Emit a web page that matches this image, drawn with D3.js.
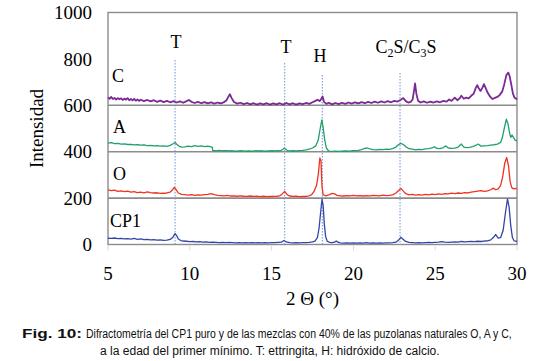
<!DOCTYPE html>
<html>
<head>
<meta charset="utf-8">
<script src="https://cdn.jsdelivr.net/npm/d3@7"></script>
<style>
  body { margin: 0; background: #fff; }
  svg text { font-family: "Liberation Serif", "Times New Roman", serif; }
</style>
</head>
<body>
<div id="chart"></div>
<script>
// 2-theta / intensity pairs
var cp1 = [[5.0,27],[5.2,26],[5.4,28],[5.6,25],[5.8,26],[6.0,24],[6.2,25],[6.4,23],[6.6,26],[6.8,22],[7.0,24],[7.2,21],[7.4,22],[7.6,20],[7.8,21],[8.0,19],[8.2,20],[8.4,18],[8.6,19],[8.8,22],[8.95,30],[9.1,47],[9.2,38],[9.3,24],[9.45,17],[9.6,15],[9.8,14],[10.0,12],[10.2,13],[10.4,11],[10.6,12],[10.8,10],[11.0,11],[11.2,9],[11.4,10],[11.6,9],[11.8,8],[12.0,9],[12.2,8],[12.4,9],[12.6,8],[12.8,7],[13.0,8],[13.2,7],[13.4,8],[13.6,7],[13.8,8],[14.0,7],[14.2,8],[14.4,7],[14.6,8],[14.8,7],[15.0,8],[15.2,8],[15.4,9],[15.6,10],[15.75,17],[15.9,11],[16.1,8],[16.3,7],[16.5,8],[16.7,7],[16.9,8],[17.1,8],[17.3,9],[17.5,11],[17.65,15],[17.8,30],[17.9,70],[18.0,140],[18.08,195],[18.15,170],[18.22,90],[18.3,35],[18.4,14],[18.55,9],[18.7,8],[18.85,10],[18.95,15],[19.05,10],[19.2,7],[19.4,6],[19.6,7],[19.8,6],[20.0,7],[20.2,6],[20.4,7],[20.6,6],[20.8,8],[21.0,6],[21.2,7],[21.4,6],[21.6,7],[21.8,6],[22.0,7],[22.2,7],[22.4,8],[22.6,10],[22.75,18],[22.9,31],[23.05,22],[23.2,13],[23.4,9],[23.6,8],[23.8,7],[24.0,8],[24.2,7],[24.4,8],[24.6,9],[24.8,8],[25.0,9],[25.2,10],[25.4,12],[25.6,10],[25.8,9],[26.0,10],[26.2,11],[26.4,10],[26.6,13],[26.8,11],[27.0,12],[27.2,13],[27.4,12],[27.6,14],[27.8,13],[28.0,15],[28.2,16],[28.4,20],[28.55,30],[28.7,43],[28.85,28],[29.0,30],[29.15,60],[29.3,140],[29.42,197],[29.52,160],[29.62,80],[29.72,30],[29.82,16],[30.0,14]];

var serieO = [[5.0,235],[5.2,232],[5.4,234],[5.6,229],[5.8,231],[6.0,228],[6.2,230],[6.4,226],[6.6,228],[6.8,224],[7.0,226],[7.2,223],[7.4,227],[7.6,224],[7.8,222],[8.0,223],[8.2,220],[8.4,221],[8.6,222],[8.8,226],[8.95,236],[9.05,246],[9.15,238],[9.3,222],[9.5,216],[9.7,215],[9.9,213],[10.1,215],[10.3,212],[10.5,214],[10.7,213],[10.9,215],[11.1,216],[11.3,219],[11.5,215],[11.7,212],[11.9,211],[12.1,210],[12.3,212],[12.5,209],[12.7,210],[12.9,208],[13.1,210],[13.3,208],[13.5,207],[13.7,209],[13.9,207],[14.1,208],[14.3,206],[14.5,208],[14.7,206],[14.9,207],[15.1,207],[15.3,208],[15.5,210],[15.65,218],[15.8,229],[15.95,215],[16.1,209],[16.3,207],[16.5,208],[16.7,206],[16.9,207],[17.1,207],[17.3,210],[17.45,215],[17.6,230],[17.75,255],[17.85,300],[17.95,373],[18.02,360],[18.08,250],[18.15,215],[18.3,210],[18.5,214],[18.7,220],[18.85,218],[19.0,212],[19.2,210],[19.4,209],[19.6,211],[19.8,210],[20.0,212],[20.2,210],[20.4,211],[20.6,209],[20.8,211],[21.0,210],[21.2,212],[21.4,211],[21.6,210],[21.8,213],[22.0,211],[22.2,212],[22.4,214],[22.6,222],[22.75,232],[22.9,242],[23.05,230],[23.2,219],[23.4,214],[23.6,216],[23.8,213],[24.0,215],[24.2,213],[24.4,216],[24.6,214],[24.8,217],[25.0,215],[25.2,218],[25.4,216],[25.6,219],[25.8,218],[26.0,221],[26.2,219],[26.4,222],[26.6,220],[26.8,224],[27.0,222],[27.2,226],[27.4,228],[27.6,230],[27.8,232],[28.0,229],[28.2,231],[28.4,236],[28.55,243],[28.7,236],[28.85,240],[29.0,255],[29.12,290],[29.25,350],[29.37,375],[29.48,340],[29.58,270],[29.68,245],[29.8,240],[29.9,242],[30.0,238]];

var serieA = [[5.0,437],[5.2,439],[5.4,435],[5.6,436],[5.8,433],[6.0,434],[6.2,431],[6.4,432],[6.6,429],[6.8,430],[7.0,428],[7.2,429],[7.4,426],[7.6,427],[7.8,425],[8.0,426],[8.2,424],[8.4,425],[8.6,423],[8.8,427],[8.95,433],[9.1,440],[9.2,432],[9.35,423],[9.5,420],[9.7,421],[9.9,424],[10.1,422],[10.3,426],[10.5,423],[10.7,425],[10.9,422],[11.1,424],[11.3,421],[11.38,419],[11.4,405],[11.6,404],[11.8,406],[12.0,404],[12.2,405],[12.4,403],[12.6,404],[12.8,402],[13.0,403],[13.2,404],[13.4,402],[13.6,403],[13.8,402],[14.0,404],[14.2,403],[14.4,404],[14.6,402],[14.8,403],[15.0,404],[15.2,403],[15.4,404],[15.6,406],[15.78,415],[15.95,406],[16.1,403],[16.3,404],[16.5,403],[16.7,405],[16.9,406],[17.1,408],[17.3,411],[17.5,416],[17.7,425],[17.85,450],[17.97,500],[18.07,537],[18.15,505],[18.25,450],[18.35,415],[18.5,402],[18.7,401],[18.9,402],[19.1,401],[19.3,402],[19.5,403],[19.7,402],[19.9,404],[20.1,405],[20.3,406],[20.5,409],[20.7,414],[20.85,416],[21.0,412],[21.2,409],[21.4,408],[21.6,410],[21.8,409],[22.0,411],[22.2,410],[22.4,413],[22.6,420],[22.75,430],[22.9,436],[23.05,431],[23.2,422],[23.4,413],[23.6,411],[23.8,408],[24.0,410],[24.2,409],[24.4,412],[24.6,413],[24.8,416],[24.95,421],[25.1,414],[25.3,413],[25.5,418],[25.65,425],[25.8,416],[26.0,414],[26.2,415],[26.4,420],[26.6,433],[26.75,420],[26.9,418],[27.1,419],[27.3,422],[27.5,428],[27.62,433],[27.8,424],[28.0,425],[28.2,426],[28.4,428],[28.6,430],[28.8,433],[29.0,440],[29.1,460],[29.22,500],[29.35,540],[29.45,520],[29.55,480],[29.62,462],[29.7,472],[29.78,462],[29.88,450],[30.0,447]];

var serieC = [[5.0,634],[5.1,628],[5.2,636],[5.3,627],[5.4,632],[5.5,625],[5.6,631],[5.7,626],[5.8,630],[5.9,623],[6.0,629],[6.1,624],[6.2,631],[6.3,622],[6.4,627],[6.5,621],[6.6,628],[6.7,620],[6.8,625],[6.9,619],[7.0,624],[7.2,618],[7.4,623],[7.6,617],[7.8,622],[8.0,615],[8.2,620],[8.4,614],[8.6,619],[8.8,613],[9.0,618],[9.2,612],[9.4,617],[9.6,611],[9.8,618],[9.95,623],[10.1,615],[10.3,610],[10.5,615],[10.7,609],[10.9,614],[11.1,608],[11.3,613],[11.5,607],[11.7,612],[11.9,608],[12.1,614],[12.25,622],[12.35,636],[12.45,648],[12.55,632],[12.7,614],[12.9,607],[13.1,611],[13.3,605],[13.5,610],[13.7,604],[13.9,609],[14.1,603],[14.3,608],[14.5,604],[14.7,609],[14.9,603],[15.1,608],[15.3,604],[15.5,609],[15.7,603],[15.9,610],[16.1,604],[16.3,609],[16.5,603],[16.7,608],[16.9,605],[17.1,610],[17.3,606],[17.5,613],[17.65,618],[17.8,624],[17.95,618],[18.05,630],[18.12,638],[18.2,615],[18.35,606],[18.5,611],[18.7,604],[18.9,610],[19.1,605],[19.3,611],[19.5,606],[19.7,612],[19.9,607],[20.1,613],[20.3,608],[20.5,614],[20.7,609],[20.9,615],[21.1,610],[21.3,616],[21.5,611],[21.7,617],[21.9,612],[22.1,618],[22.3,613],[22.5,619],[22.7,616],[22.9,624],[23.05,631],[23.2,618],[23.35,612],[23.5,615],[23.62,625],[23.7,660],[23.77,694],[23.85,650],[23.95,620],[24.1,612],[24.3,617],[24.5,611],[24.7,616],[24.9,612],[25.1,617],[25.3,613],[25.5,619],[25.7,616],[25.85,625],[26.0,619],[26.2,633],[26.35,622],[26.5,630],[26.6,641],[26.75,628],[26.9,633],[27.05,630],[27.2,641],[27.35,650],[27.48,675],[27.57,687],[27.67,672],[27.77,662],[27.88,675],[27.98,691],[28.08,675],[28.2,655],[28.35,638],[28.5,627],[28.65,632],[28.8,636],[28.95,645],[29.1,660],[29.22,690],[29.35,730],[29.47,741],[29.55,725],[29.65,690],[29.75,650],[29.85,633],[29.95,628],[30.0,625]];

var xTicks = [5, 10, 15, 20, 25, 30];
var yTicks = [0, 200, 400, 600, 800, 1000];
var separators = [200, 400, 600];

// reflection markers: position (2θ) and label
var markers = [
  { pos: 9.1, label: "T" },
  { pos: 15.8, label: "T" },
  { pos: 18.1, label: "H" },
  { pos: 22.85, label: "C2S/C3S" }
];

var series = [
  { name: "CP1", data: cp1, color: "#3346a6", width: 1.3 },
  { name: "O", data: serieO, color: "#f0321e", width: 1.3 },
  { name: "A", data: serieA, color: "#21a06a", width: 1.3 },
  { name: "C", data: serieC, color: "#7b2a95", width: 1.8 }
];

var W = 551, H = 361;
var m = { left: 108, right: 517, top: 12.5, bottom: 244.5 };

var svg = d3.select("#chart").append("svg")
  .attr("width", W)
  .attr("height", H);

var x = d3.scaleLinear().domain([5, 30]).range([m.left, m.right]);
var y = d3.scaleLinear().domain([0, 1000]).range([m.bottom, m.top]);

// marker lines (behind the traces)
var mk = svg.append("g");
var markerTop = [60, 63, 75, 73];
mk.selectAll("line")
  .data(markers)
  .enter().append("line")
  .attr("x1", d => x(d.pos)).attr("x2", d => x(d.pos))
  .attr("y1", (d, i) => markerTop[i])
  .attr("y2", m.bottom)
  .attr("stroke", "#6f92d8")
  .attr("stroke-width", 1)
  .attr("stroke-dasharray", "1.5,1.5");

var labelPos = [[176, 48], [286, 53], [320, 62], [406, 53]];
markers.forEach(function (d, i) {
  var t = svg.append("text")
    .attr("x", labelPos[i][0])
    .attr("y", labelPos[i][1])
    .attr("text-anchor", "middle")
    .style("font-size", "18px");
  if (d.label == "C2S/C3S") {
    t.append("tspan").text("C");
    t.append("tspan").attr("dy", 4).style("font-size", "12px").text("2");
    t.append("tspan").attr("dy", -4).text("S/C");
    t.append("tspan").attr("dy", 4).style("font-size", "12px").text("3");
    t.append("tspan").attr("dy", -4).text("S");
  } else {
    t.text(d.label);
  }
});

// frame + separators between traces
var frame = svg.append("g").attr("stroke", "#8c8c8c").attr("fill", "none");
frame.selectAll(".sep")
  .data(separators)
  .enter().append("line")
  .attr("x1", m.left).attr("x2", m.right)
  .attr("y1", d => y(d)).attr("y2", d => y(d))
  .attr("stroke-width", 1.6);
frame.append("rect")
  .attr("x", m.left).attr("y", m.top)
  .attr("width", m.right - m.left)
  .attr("height", m.bottom - m.top)
  .attr("stroke-width", 1.4);

// x ticks
svg.append("g").selectAll("line")
  .data(xTicks)
  .enter().append("line")
  .attr("x1", d => x(d)).attr("x2", d => x(d))
  .attr("y1", m.bottom + 1).attr("y2", m.bottom + 6)
  .attr("stroke", "#d9d9d9");

// traces
var line = d3.line().x(d => x(d[0])).y(d => y(d[1]));
svg.append("g").selectAll("path")
  .data(series)
  .enter().append("path")
  .attr("d", d => line(d.data))
  .attr("fill", "none")
  .attr("stroke", d => d.color)
  .attr("stroke-width", d => d.width)
  .attr("stroke-linejoin", "round");

// series names
var namePos = { CP1: [110, 227], O: [113, 180], A: [113, 133], C: [112, 82] };
svg.append("g").selectAll("text")
  .data(series)
  .enter().append("text")
  .attr("x", d => namePos[d.name][0])
  .attr("y", d => namePos[d.name][1])
  .style("font-size", "18px")
  .text(d => d.name);

// tick labels
svg.append("g").selectAll("text")
  .data(yTicks)
  .enter().append("text")
  .attr("x", 92)
  .attr("y", d => y(d))
  .attr("dy", "0.35em")
  .attr("text-anchor", "end")
  .style("font-size", "19px")
  .text(d => d);

svg.append("g").selectAll("text")
  .data(xTicks)
  .enter().append("text")
  .attr("x", d => x(d))
  .attr("y", 280)
  .attr("text-anchor", "middle")
  .style("font-size", "19px")
  .text(d => d);

svg.append("text")
  .attr("transform", "translate(43," + ((m.top + m.bottom) / 2) + ") rotate(-90)")
  .attr("text-anchor", "middle")
  .style("font-size", "19px")
  .text("Intensidad");

svg.append("text")
  .attr("x", (m.left + m.right) / 2)
  .attr("y", 305)
  .attr("text-anchor", "middle")
  .style("font-size", "19px")
  .text("2 Θ (°)");

// caption: the printed face is condensed, so squeeze each piece horizontally
var capFont = "'Liberation Sans', Arial, sans-serif";
var capLines = [
  { txt: "Fig. 10:", x: 22, y: 338, len: 60, bold: true },
  { txt: "Difractometría del CP1 puro y de las mezclas con 40% de las puzolanas naturales O, A y C,", x: 86, y: 338, len: 426, bold: false },
  { txt: "a la edad del primer mínimo. T: ettringita, H: hidróxido de calcio.", x: 100, y: 355, len: 340, bold: false }
];
svg.append("g").selectAll("text")
  .data(capLines)
  .enter().append("text")
  .attr("x", 0)
  .attr("y", 0)
  .style("font-family", capFont)
  .style("font-size", "13.5px")
  .style("font-weight", d => d.bold ? "bold" : "normal")
  .attr("fill", "#111")
  .text(d => d.txt)
  .attr("transform", function (d) {
    var k = d.len / this.getComputedTextLength();
    return "translate(" + d.x + "," + d.y + ") scale(" + k + ",1)";
  });
</script>
</body>
</html>
